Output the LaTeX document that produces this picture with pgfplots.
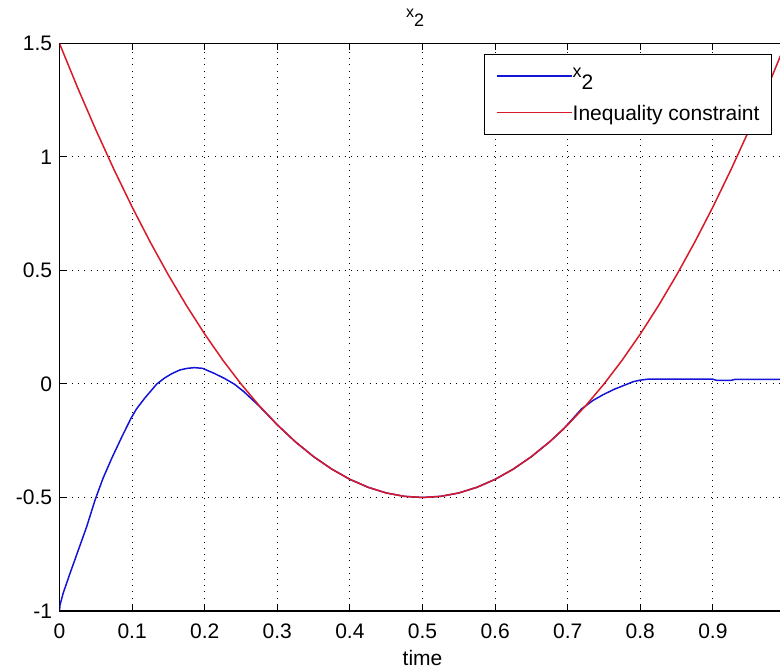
\documentclass[border=0pt]{standalone}
\usepackage{fontspec}
\setmainfont{Liberation Sans}
\usepackage{pgfplots}
\pgfplotsset{compat=1.18}
\definecolor{mblue}{RGB}{20,20,215}
\definecolor{mred}{RGB}{215,25,40}
\begin{document}
\fontsize{10.5}{12.6}\selectfont
\begin{tikzpicture}
\begin{axis}[
  scale only axis, width=363pt, height=283.75pt,
  xmin=0, xmax=1, ymin=-1, ymax=1.5,
  xtick={0,0.1,0.2,0.3,0.4,0.5,0.6,0.7,0.8,0.9,1},
  xticklabels={0,0.1,0.2,0.3,0.4,0.5,0.6,0.7,0.8,0.9,1},
  ytick={-1,-0.5,0,0.5,1,1.5},
  yticklabels={-1,-0.5,0,0.5,1,1.5},
  xticklabel style={yshift=-2.5pt},
  tick align=inside, tick pos=both, major tick length=3.5pt,
  every tick/.style={black, line width=0.5pt},
  axis line style={line width=0.6pt},
  grid=major,
  major grid style={black, line width=0.5pt, dash pattern=on 0.5pt off 2.6pt},
  title={{\footnotesize x}\raisebox{-4.5pt}{\small 2}},
  title style={at={(axis description cs:0.49,1)}, anchor=base, yshift=6.75pt, inner sep=0pt},
  xlabel={time},
  xlabel style={at={(axis description cs:0.5,0)}, anchor=base, yshift=-27.5pt, inner sep=0pt},
  legend cell align=left,
  legend image code/.code={\draw[#1] (0pt,0pt) -- (34pt,0pt); \path (0pt,0pt) -- (37.5pt,0pt);},
  legend style={at={(rel axis cs:1,1)}, anchor=north east, xshift=-6.75pt, yshift=-5.25pt,
    draw=black, line width=0.5pt, fill=white, inner xsep=6pt, inner ysep=7pt, row sep=10.7pt,
    nodes={inner sep=0pt, text height=7.6pt, text depth=0pt}},
]
\coordinate (ll) at (rel axis cs:0,0);
\coordinate (ur) at (rel axis cs:1,1);
\addplot[mblue, line width=0.75pt] coordinates {
(0,-1) (0.0007,-0.974) (0.005,-0.922) (0.0145,-0.834) (0.026,-0.731) (0.0375,-0.628)
(0.049,-0.511) (0.060,-0.415) (0.072,-0.327) (0.086,-0.232) (0.0985,-0.151)
(0.106,-0.11) (0.118,-0.06) (0.126,-0.03) (0.134,0.0) (0.145,0.027) (0.155,0.046)
(0.166,0.062) (0.176,0.069) (0.186,0.072) (0.197,0.069) (0.213,0.047) (0.227,0.025)
(0.241,-0.001) (0.254,-0.034) (0.266,-0.070) (0.275,-0.097)
(0.3,-0.18) (0.325,-0.255) (0.35,-0.32) (0.375,-0.375) (0.4,-0.42) (0.425,-0.455)
(0.45,-0.48) (0.475,-0.495) (0.5,-0.5) (0.525,-0.495) (0.55,-0.48) (0.575,-0.455)
(0.6,-0.42) (0.625,-0.375) (0.65,-0.32) (0.675,-0.255) (0.694,-0.199)
(0.705,-0.16) (0.719,-0.11) (0.735,-0.072) (0.75,-0.045) (0.765,-0.022)
(0.78,-0.003) (0.79,0.010) (0.80,0.017) (0.81,0.021) (0.9,0.021) (0.905,0.016)
(0.925,0.016) (0.93,0.02) (1.0,0.02)
};
\addlegendentry{\raisebox{3pt}{\small x}\raisebox{-3pt}{2}}
\addplot[mred, line width=0.75pt] coordinates {
(0,1.5) (0.025,1.305) (0.05,1.12) (0.075,0.945) (0.1,0.78) (0.125,0.625)
(0.15,0.48) (0.175,0.345) (0.2,0.22) (0.225,0.105) (0.25,0) (0.275,-0.095)
(0.3,-0.18) (0.325,-0.255) (0.35,-0.32) (0.375,-0.375) (0.4,-0.42) (0.425,-0.455)
(0.45,-0.48) (0.475,-0.495) (0.5,-0.5) (0.525,-0.495) (0.55,-0.48) (0.575,-0.455)
(0.6,-0.42) (0.625,-0.375) (0.65,-0.32) (0.675,-0.255) (0.7,-0.18) (0.725,-0.095)
(0.75,0) (0.775,0.105) (0.8,0.22) (0.825,0.345) (0.85,0.48) (0.875,0.625)
(0.9,0.78) (0.925,0.945) (0.95,1.12) (0.975,1.305) (1,1.5)
};
\addlegendentry{Inequality constraint}
\end{axis}
\pgfresetboundingbox
\path[use as bounding box] ([xshift=-29.75pt,yshift=-30.5pt]ll) rectangle ([xshift=-2.75pt,yshift=21.75pt]ur);
\end{tikzpicture}
\end{document}
